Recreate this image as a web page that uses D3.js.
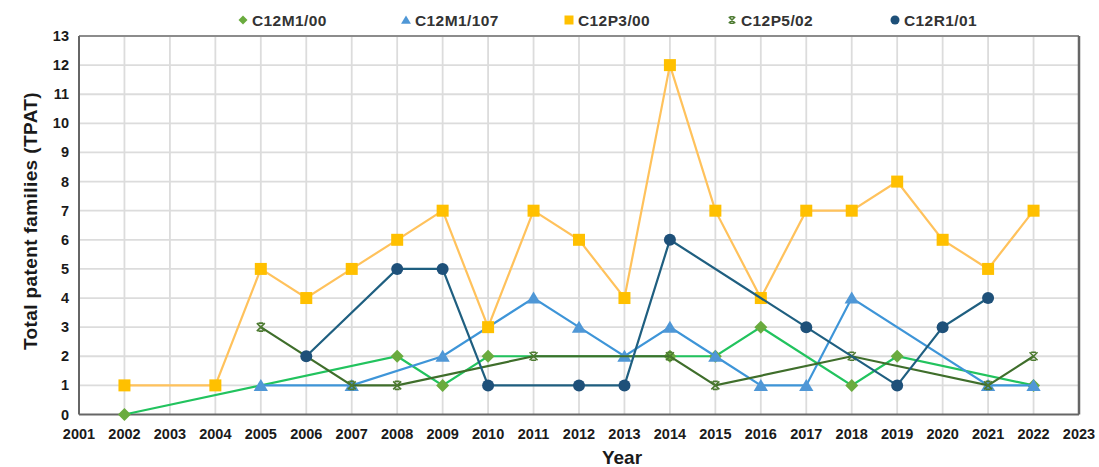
<!DOCTYPE html>
<html>
<head>
<meta charset="utf-8">
<script src="https://cdn.jsdelivr.net/npm/d3@7"></script>
<style>
    body { margin: 0; background: #fff; }
    svg { display: block; font-family: "Liberation Sans", Arial, sans-serif; }
    .tick-label { font-size: 14.5px; font-weight: bold; fill: #1a1a1a; }
    .axis-title { font-weight: bold; fill: #1a1a1a; }
    .legend-text { font-size: 15.5px; font-weight: bold; fill: #333; letter-spacing: 0.4px; }
</style>
</head>
<body>
<div id="chart"></div>
<script>
/*=====================================================================
 data
======================================================================*/
var seriesNames = ["C12M1/00", "C12M1/107", "C12P3/00", "C12P5/02", "C12R1/01"];

var m1_00Years = [2002, 2008, 2009, 2010, 2014, 2015, 2016, 2018, 2019, 2022];
var m1_00Values = [0, 2, 1, 2, 2, 2, 3, 1, 2, 1];

var m1_107Years = [2005, 2007, 2009, 2011, 2012, 2013, 2014, 2015, 2016, 2017, 2018, 2021, 2022];
var m1_107Values = [1, 1, 2, 4, 3, 2, 3, 2, 1, 1, 4, 1, 1];

var p3_00Years = [2002, 2004, 2005, 2006, 2007, 2008, 2009, 2010, 2011, 2012, 2013, 2014, 2015, 2016, 2017, 2018, 2019, 2020, 2021, 2022];
var p3_00Values = [1, 1, 5, 4, 5, 6, 7, 3, 7, 6, 4, 12, 7, 4, 7, 7, 8, 6, 5, 7];

var p5_02Years = [2005, 2007, 2008, 2011, 2014, 2015, 2018, 2021, 2022];
var p5_02Values = [3, 1, 1, 2, 2, 1, 2, 1, 2];

var r1_01Years = [2006, 2008, 2009, 2010, 2012, 2013, 2014, 2017, 2019, 2020, 2021];
var r1_01Values = [2, 5, 5, 1, 1, 1, 6, 3, 1, 3, 4];

var xTicks = d3.range(2001, 2024);
var yTicks = d3.range(0, 14);

/*=====================================================================
 chart settings
======================================================================*/
var width = 1099, height = 467;
var margin = { top: 36, right: 20, bottom: 53, left: 79 };

var lineColors = ["#22c35e", "#3e95d8", "#ffc25c", "#3f6e2b", "#1f5f80"];
var markerColors = ["#6aab3e", "#4f97d6", "#ffc000", "#4c7a30", "#1e5079"];
var markerTypes = ["diamond", "triangle", "square", "cross", "circle"];

var series = [
    { years: m1_00Years, values: m1_00Values },
    { years: m1_107Years, values: m1_107Values },
    { years: p3_00Years, values: p3_00Values },
    { years: p5_02Years, values: p5_02Values },
    { years: r1_01Years, values: r1_01Values }
].map(function (s, i) {
    return {
        name: seriesNames[i],
        points: s.years.map(function (y, j) { return { year: y, value: s.values[j] }; }),
        line: lineColors[i],
        fill: markerColors[i],
        type: markerTypes[i]
    };
});

var svg = d3.select("#chart").append("svg")
    .attr("width", width)
    .attr("height", height);

var x = d3.scaleLinear().domain([2001, 2023]).range([margin.left, width - margin.right]);
var y = d3.scaleLinear().domain([0, 13]).range([height - margin.bottom + 0.5, margin.top]);

/*====================================================================
       markerPath()
       returns path for a marker of given type and size
    ==================================================================*/
function markerPath(type, s) {
    var h = s / 2;
    if (type == "diamond") {
        return "M0," + (-h) + "L" + h + ",0L0," + h + "L" + (-h) + ",0Z";
    } else if (type == "triangle") {
        return "M0," + (-h) + "L" + (h * 1.1) + "," + (h * 0.85) + "L" + (-h * 1.1) + "," + (h * 0.85) + "Z";
    } else if (type == "square") {
        return "M" + (-h) + "," + (-h) + "h" + s + "v" + s + "h" + (-s) + "Z";
    } else if (type == "cross") {
        var c = h * 0.8;
        return "M" + (-c) + "," + (-c) + "L" + c + "," + c + "M" + c + "," + (-c) + "L" + (-c) + "," + c +
            "M" + (-c * 0.6) + "," + (-c) + "H" + (c * 0.6) + "M" + (-c * 0.6) + "," + c + "H" + (c * 0.6);
    }
    return d3.symbol().type(d3.symbolCircle).size(Math.PI * h * h)();
}

function drawMarker(g, type, s, color) {
    if (type == "cross") {
        g.append("path")
            .attr("d", markerPath(type, s))
            .attr("fill", "none")
            .attr("stroke", color)
            .attr("stroke-width", 1.6);
    } else {
        g.append("path")
            .attr("d", markerPath(type, s))
            .attr("fill", color);
    }
}

/*=====================================================================
 gridlines
======================================================================*/
var grid = svg.append("g").attr("class", "grid");

grid.selectAll(".vgrid")
    .data(xTicks.slice(1, -1))
    .enter()
    .append("line")
    .attr("x1", function (d) { return x(d); })
    .attr("x2", function (d) { return x(d); })
    .attr("y1", y(0))
    .attr("y2", y(13))
    .attr("stroke", "#dcdcdc")
    .attr("stroke-width", 1.8);

grid.selectAll(".hgrid")
    .data(yTicks.slice(1, -1))
    .enter()
    .append("line")
    .attr("x1", x(2001))
    .attr("x2", x(2023))
    .attr("y1", function (d) { return y(d); })
    .attr("y2", function (d) { return y(d); })
    .attr("stroke", "#dcdcdc")
    .attr("stroke-width", 1.8);

/*=====================================================================
 frame
======================================================================*/
svg.append("line")
    .attr("x1", x(2001)).attr("x2", x(2023))
    .attr("y1", y(13)).attr("y2", y(13))
    .attr("stroke", "#8c8c8c").attr("stroke-width", 2);
svg.append("line")
    .attr("x1", x(2023)).attr("x2", x(2023))
    .attr("y1", y(13)).attr("y2", y(0))
    .attr("stroke", "#666").attr("stroke-width", 2.5);
svg.append("line")
    .attr("x1", x(2001)).attr("x2", x(2001))
    .attr("y1", y(13)).attr("y2", y(0))
    .attr("stroke", "#666").attr("stroke-width", 2);
svg.append("line")
    .attr("x1", x(2001)).attr("x2", x(2023))
    .attr("y1", y(0)).attr("y2", y(0))
    .attr("stroke", "#666").attr("stroke-width", 2);

/*=====================================================================
 axes labels
======================================================================*/
svg.append("g")
    .selectAll("text")
    .data(xTicks)
    .enter()
    .append("text")
    .attr("class", "tick-label")
    .attr("x", function (d) { return x(d); })
    .attr("y", y(0) + 24)
    .attr("text-anchor", "middle")
    .text(function (d) { return d; });

svg.append("g")
    .selectAll("text")
    .data(yTicks)
    .enter()
    .append("text")
    .attr("class", "tick-label")
    .attr("x", 69)
    .attr("y", function (d) { return y(d) + 5; })
    .attr("text-anchor", "end")
    .text(function (d) { return d; });

svg.append("text")
    .attr("class", "axis-title")
    .attr("transform", "translate(37,221) rotate(-90)")
    .attr("text-anchor", "middle")
    .style("font-size", "19px")
    .style("letter-spacing", "0.4px")
    .text("Total patent families (TPAT)");

svg.append("text")
    .attr("class", "axis-title")
    .attr("x", 622)
    .attr("y", 464)
    .attr("text-anchor", "middle")
    .style("font-size", "19px")
    .text("Year");

/*=====================================================================
 series lines and markers
======================================================================*/
var line = d3.line()
    .x(function (d) { return x(d.year); })
    .y(function (d) { return y(d.value); });

var markerSize = { diamond: 13, triangle: 13, square: 12, cross: 10, circle: 12 };

series.forEach(function (s) {
    var g = svg.append("g").attr("class", "series");

    g.append("path")
        .datum(s.points)
        .attr("d", line)
        .attr("fill", "none")
        .attr("stroke", s.line)
        .attr("stroke-width", 2.2);

    s.points.forEach(function (p) {
        var m = g.append("g")
            .attr("transform", "translate(" + x(p.year) + "," + y(p.value) + ")");
        drawMarker(m, s.type, markerSize[s.type], s.fill);
    });
});

/*=====================================================================
 legend
======================================================================*/
var legend = svg.append("g").attr("class", "legend");

series.forEach(function (s, i) {
    var lx = 243 + i * 163;
    var item = legend.append("g")
        .attr("transform", "translate(" + lx + ",20)");
    drawMarker(item, s.type, s.type == "cross" ? 8 : 9, s.fill);
    item.append("text")
        .attr("class", "legend-text")
        .attr("x", 9)
        .attr("y", 5.5)
        .text(s.name);
});
</script>
</body>
</html>
